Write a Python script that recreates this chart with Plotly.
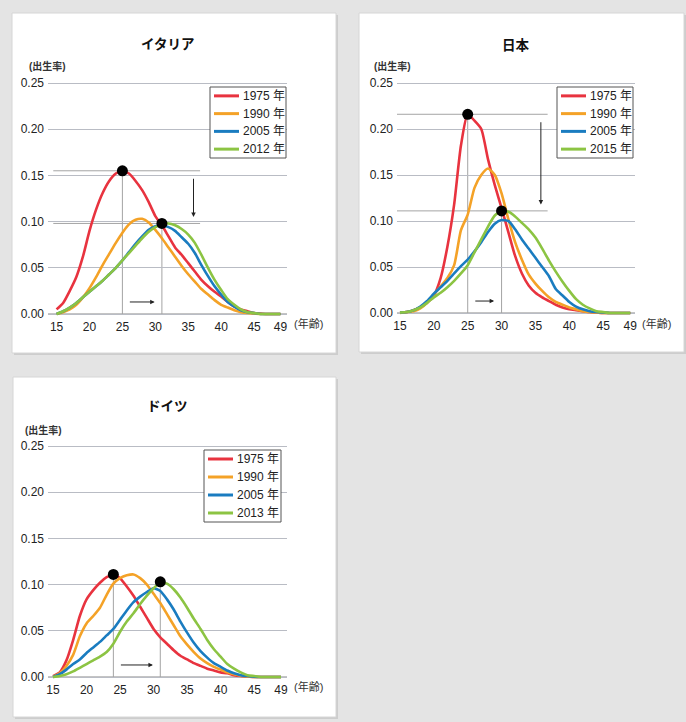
import plotly.graph_objects as go

# ---------------- data ----------------
ages = list(range(15, 50))

it_1975 = [0.005, 0.012, 0.025, 0.040, 0.062, 0.090, 0.113, 0.131, 0.144, 0.152, 0.155, 0.152, 0.144, 0.134, 0.121,
           0.106, 0.096, 0.084, 0.072, 0.064, 0.055, 0.046, 0.037, 0.030, 0.024, 0.019, 0.013, 0.008, 0.005, 0.003,
           0.001, 0.0005, 0.0, 0.0, 0.0]
it_1990 = [0.0, 0.002, 0.005, 0.010, 0.018, 0.028, 0.040, 0.053, 0.065, 0.077, 0.088, 0.097, 0.102, 0.103, 0.099,
           0.091, 0.082, 0.072, 0.062, 0.052, 0.043, 0.035, 0.027, 0.021, 0.015, 0.010, 0.007, 0.004, 0.002, 0.001,
           0.0005, 0.0, 0.0, 0.0, 0.0]
it_2005 = [0.0, 0.003, 0.007, 0.012, 0.018, 0.024, 0.030, 0.036, 0.043, 0.050, 0.058, 0.067, 0.076, 0.084, 0.091,
           0.095, 0.096, 0.094, 0.090, 0.083, 0.076, 0.066, 0.053, 0.041, 0.030, 0.021, 0.013, 0.008, 0.004, 0.002,
           0.001, 0.0, 0.0, 0.0, 0.0]
it_2012 = [0.0, 0.003, 0.007, 0.012, 0.018, 0.024, 0.030, 0.036, 0.043, 0.050, 0.058, 0.066, 0.074, 0.082, 0.089,
           0.094, 0.097, 0.098, 0.096, 0.092, 0.086, 0.077, 0.064, 0.050, 0.037, 0.026, 0.016, 0.010, 0.005, 0.002,
           0.001, 0.0, 0.0, 0.0, 0.0]

jp_1975 = [0.0005, 0.001, 0.003, 0.006, 0.011, 0.019, 0.038, 0.072, 0.118, 0.182, 0.216, 0.209, 0.200, 0.167, 0.139,
           0.114, 0.088, 0.062, 0.043, 0.030, 0.022, 0.017, 0.013, 0.009, 0.006, 0.004, 0.003, 0.002, 0.001, 0.0005,
           0.0, 0.0, 0.0, 0.0, 0.0]
jp_1990 = [0.0, 0.001, 0.002, 0.005, 0.011, 0.020, 0.029, 0.038, 0.052, 0.090, 0.107, 0.136, 0.150, 0.157, 0.150,
           0.130, 0.102, 0.077, 0.058, 0.042, 0.032, 0.024, 0.017, 0.012, 0.009, 0.006, 0.004, 0.002, 0.001, 0.0005,
           0.0, 0.0, 0.0, 0.0, 0.0]
jp_2005 = [0.0005, 0.001, 0.003, 0.007, 0.013, 0.021, 0.028, 0.035, 0.043, 0.051, 0.058, 0.067, 0.077, 0.088, 0.097,
           0.101, 0.100, 0.091, 0.080, 0.070, 0.060, 0.050, 0.040, 0.026, 0.019, 0.012, 0.007, 0.004, 0.002, 0.001,
           0.0005, 0.0, 0.0, 0.0, 0.0]
jp_2015 = [0.0005, 0.001, 0.003, 0.006, 0.011, 0.017, 0.022, 0.028, 0.035, 0.043, 0.052, 0.066, 0.080, 0.094, 0.106,
           0.111, 0.110, 0.105, 0.098, 0.091, 0.082, 0.070, 0.057, 0.045, 0.034, 0.024, 0.015, 0.009, 0.005, 0.002,
           0.001, 0.0, 0.0, 0.0, 0.0]

de_1975 = [0.001, 0.005, 0.018, 0.040, 0.066, 0.084, 0.094, 0.102, 0.108, 0.111, 0.107, 0.098, 0.088, 0.076, 0.064,
           0.052, 0.043, 0.036, 0.029, 0.023, 0.019, 0.015, 0.012, 0.009, 0.007, 0.005, 0.004, 0.002, 0.001, 0.0005,
           0.0, 0.0, 0.0, 0.0, 0.0]
de_1990 = [0.0, 0.004, 0.012, 0.024, 0.044, 0.058, 0.066, 0.075, 0.089, 0.101, 0.107, 0.110, 0.111, 0.107, 0.100,
           0.090, 0.080, 0.068, 0.056, 0.044, 0.035, 0.027, 0.020, 0.015, 0.011, 0.008, 0.005, 0.003, 0.0015, 0.0005,
           0.0, 0.0, 0.0, 0.0, 0.0]
de_2005 = [0.0, 0.003, 0.008, 0.014, 0.019, 0.026, 0.032, 0.038, 0.045, 0.052, 0.062, 0.072, 0.081, 0.087, 0.092,
           0.096, 0.093, 0.084, 0.073, 0.060, 0.048, 0.037, 0.028, 0.021, 0.015, 0.011, 0.007, 0.004, 0.002, 0.001,
           0.0003, 0.0, 0.0, 0.0, 0.0]
de_2013 = [0.0, 0.001, 0.003, 0.006, 0.010, 0.014, 0.018, 0.022, 0.027, 0.036, 0.049, 0.060, 0.069, 0.079, 0.088,
           0.096, 0.102, 0.101, 0.095, 0.086, 0.075, 0.063, 0.052, 0.040, 0.030, 0.022, 0.014, 0.009, 0.005, 0.002,
           0.001, 0.0, 0.0, 0.0, 0.0]

# peak markers (age, rate): early peak, late peak
it_peaks = [(25, 0.155), (31, 0.098)]
jp_peaks = [(25, 0.216), (30, 0.111)]
de_peaks = [(24, 0.111), (31, 0.103)]

x_tickvals = [15, 20, 25, 30, 35, 40, 45, 49]
y_tickvals = [0.0, 0.05, 0.10, 0.15, 0.20, 0.25]
y_ticktext = ["0.00", "0.05", "0.10", "0.15", "0.20", "0.25"]

colors = ["#e8333f", "#f4a227", "#1a7cc0", "#8cc443"]

panels = [
    dict(title="イタリア", years=["1975 年", "1990 年", "2005 年", "2012 年"],
         series=[it_1975, it_1990, it_2005, it_2012], peaks=it_peaks, refs=True,
         left=48, right=287, xr=[13.7, 50.0], y0=314, y25=83,
         card=(12, 13, 336, 353), title_y=45, ylab=(27, 66), xlab_y=323, xlab_x=292,
         legend=(210, 87, 286, 158)),
    dict(title="日本", years=["1975 年", "1990 年", "2005 年", "2015 年"],
         series=[jp_1975, jp_1990, jp_2005, jp_2015], peaks=jp_peaks, refs=True,
         left=397, right=635, xr=[14.56, 49.7], y0=313, y25=83,
         card=(359, 13, 684, 352), title_y=45, ylab=(372, 66), xlab_y=323, xlab_x=640,
         legend=(557, 87, 633, 158)),
    dict(title="ドイツ", years=["1975 年", "1990 年", "2005 年", "2013 年"],
         series=[de_1975, de_1990, de_2005, de_2013], peaks=de_peaks, refs=False,
         left=48, right=287, xr=[14.25, 49.9], y0=677, y25=446,
         card=(13, 377, 336, 717), title_y=407, ylab=(23, 430), xlab_y=686, xlab_x=292,
         legend=(204, 450, 281, 522)),
]

W, H = 686, 722
FONT = "Liberation Sans, Arial, Noto Sans CJK JP, sans-serif"
YR = [-0.004, 0.254]


def px(x):
    return x / W


def py(y):
    return 1 - y / H


fig = go.Figure()
shapes = []
annotations = []
layout = {}

for i, p in enumerate(panels):
    n = "" if i == 0 else str(i + 1)
    xa, ya = "x" + n, "y" + n

    k = (p["y0"] - p["y25"]) / 0.25
    bottom_px = p["y0"] - YR[0] * k
    top_px = p["y0"] - YR[1] * k

    # card background
    c = p["card"]
    shapes.append(dict(type="rect", xref="paper", yref="paper", layer="below",
                       x0=px(c[0] + 2), x1=px(c[2] + 2), y0=py(c[1] + 2), y1=py(c[3] + 2),
                       fillcolor="#cdcdcd", line=dict(width=0)))
    shapes.append(dict(type="rect", xref="paper", yref="paper", layer="below",
                       x0=px(c[0]), x1=px(c[2]), y0=py(c[1]), y1=py(c[3]),
                       fillcolor="white", line=dict(color="#d6d6d6", width=1)))

    layout["xaxis" + n] = dict(domain=[px(p["left"]), px(p["right"])], range=p["xr"], anchor=ya,
                               tickvals=x_tickvals, showgrid=False, zeroline=False, showline=False,
                               ticks="", tickfont=dict(size=12, color="#222", family=FONT),
                               fixedrange=True, automargin=False)
    layout["yaxis" + n] = dict(domain=[py(bottom_px), py(top_px)], range=YR, anchor=xa,
                               tickvals=y_tickvals, ticktext=y_ticktext, showgrid=True,
                               gridcolor="#b9bcc4", gridwidth=1, zeroline=False, showline=False,
                               ticks="", ticklabelstandoff=3, automargin=False,
                               tickfont=dict(size=12, color="#222", family=FONT), fixedrange=True)
    # baseline
    shapes.append(dict(type="line", xref=xa + " domain", yref=ya, x0=0, x1=1, y0=0, y1=0,
                       line=dict(color="#8a8a8a", width=1.2), layer="below"))

    (a1, v1), (a2, v2) = p["peaks"]

    # horizontal reference lines
    if p["refs"]:
        for v in (v1, v2):
            shapes.append(dict(type="line", xref=xa, yref=ya, x0=14.5, x1=36.8, y0=v, y1=v,
                               line=dict(color="#a4a4a4", width=1), layer="below"))
        annotations.append(dict(xref=xa, yref=ya, axref=xa, ayref=ya, x=35.8, y=v2 + 0.007,
                                ax=35.8, ay=v1 - 0.007, text="", showarrow=True, arrowhead=2,
                                arrowsize=0.9, arrowwidth=1, arrowcolor="#222"))
    # vertical lines from peaks
    for a, v in p["peaks"]:
        shapes.append(dict(type="line", xref=xa, yref=ya, x0=a, x1=a, y0=0, y1=v,
                           line=dict(color="#a4a4a4", width=1), layer="below"))
    # horizontal arrow
    annotations.append(dict(xref=xa, yref=ya, axref=xa, ayref=ya, x=a2 - 1.1, y=0.013,
                            ax=a1 + 0.9, ay=0.013, text="", showarrow=True, arrowhead=2,
                            arrowsize=0.9, arrowwidth=1, arrowcolor="#222"))

    for j in range(4):
        fig.add_trace(go.Scatter(x=ages, y=p["series"][j], mode="lines", name=p["years"][j],
                                 line=dict(color=colors[j], width=2.6, shape="spline", smoothing=0.6),
                                 xaxis=xa, yaxis=ya, showlegend=False, hoverinfo="skip"))
    fig.add_trace(go.Scatter(x=[a1, a2], y=[v1, v2], mode="markers",
                             marker=dict(color="black", size=11), xaxis=xa, yaxis=ya,
                             showlegend=False, hoverinfo="skip"))

    # legend box
    L = p["legend"]
    shapes.append(dict(type="rect", xref="paper", yref="paper",
                       x0=px(L[0]), x1=px(L[2]), y0=py(L[1]), y1=py(L[3]),
                       fillcolor="white", line=dict(color="#555", width=1)))
    row_h = (L[3] - L[1]) / 4
    for j in range(4):
        yc = L[1] + row_h * (j + 0.5)
        shapes.append(dict(type="line", xref="paper", yref="paper",
                           x0=px(L[0] + 4), x1=px(L[0] + 29), y0=py(yc), y1=py(yc),
                           line=dict(color=colors[j], width=3)))
        annotations.append(dict(xref="paper", yref="paper", x=px(L[0] + 31), y=py(yc),
                                xanchor="left", yanchor="middle", text=p["years"][j],
                                showarrow=False, font=dict(size=12, color="#222", family=FONT)))

    # titles and axis labels
    annotations.append(dict(xref="paper", yref="paper", x=px((p["left"] + p["right"]) / 2),
                            y=py(p["title_y"]), xanchor="center", yanchor="middle",
                            text="<b>" + p["title"] + "</b>", showarrow=False,
                            font=dict(size=13.5, color="#111", family=FONT)))
    annotations.append(dict(xref="paper", yref="paper", x=px(p["ylab"][0]), y=py(p["ylab"][1]),
                            xanchor="left", yanchor="middle", text="<b>(出生率)</b>", showarrow=False,
                            font=dict(size=10, color="#333", family=FONT)))
    annotations.append(dict(xref="paper", yref="paper", x=px(p["xlab_x"]), y=py(p["xlab_y"]),
                            xanchor="left", yanchor="middle", text="(年齢)", showarrow=False,
                            font=dict(size=11, color="#333", family=FONT)))

fig.update_layout(width=W, height=H, margin=dict(l=0, r=0, t=0, b=0, pad=0, autoexpand=False),
                  paper_bgcolor="#e4e4e4", plot_bgcolor="rgba(0,0,0,0)",
                  shapes=shapes, annotations=annotations, font=dict(family=FONT),
                  showlegend=False, **layout)

fig.write_html("out.html", config={"displayModeBar": False},
               post_script="document.body.style.margin='0';document.body.style.overflow='hidden';")
